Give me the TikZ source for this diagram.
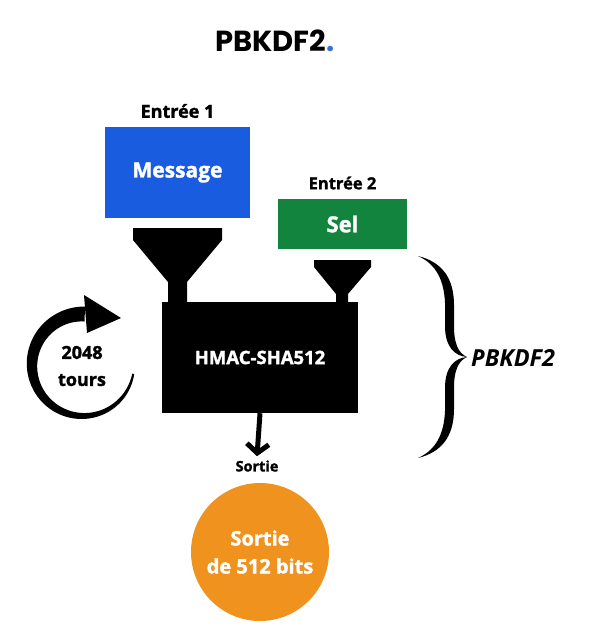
\documentclass[tikz,border=0pt]{standalone}
\usepackage{fontspec}
\setmainfont{Open Sans}[BoldFeatures={FakeBold=1.5}]
\newfontfamily\titlefont{Poppins}
\usetikzlibrary{arrows.meta}
\definecolor{msgblue}{HTML}{1A5CE0}
\definecolor{selgreen}{HTML}{13843E}
\definecolor{outorange}{HTML}{F0921E}
\definecolor{dotblue}{HTML}{3A6FD8}
\tikzset{
  lbl/.style={font=\bfseries, text=black, inner sep=0pt},
  funnel/.style={fill=black, draw=none},
}
\begin{document}
\begin{tikzpicture}[x=1pt,y=-1pt]
\useasboundingbox (0,0) rectangle (589,642);
% title
\node[inner sep=0pt, font=\titlefont\bfseries\fontsize{29}{33}\selectfont] (title) at (275,41) {PBKDF2\textcolor{dotblue}{.}};
% inputs
\node[lbl, font=\bfseries\fontsize{18}{21}\selectfont] (e1) at (177.5,111) {Entrée 1};
\node[fill=msgblue, minimum width=145pt, minimum height=91pt, inner sep=0pt,
      font=\bfseries\fontsize{21}{25}\selectfont, text=white] (msg) at (177.5,172.5) {Message};
\node[lbl, font=\bfseries\fontsize{16.5}{20}\selectfont] (e2) at (342.5,183) {Entrée 2};
\node[fill=selgreen, minimum width=129pt, minimum height=50pt, inner sep=0pt,
      font=\bfseries\fontsize{22}{26}\selectfont, text=white] (sel) at (342.5,224) {Sel};
% funnels
\fill[funnel] (133,228) -- (222,228) -- (222,240) -- (187,282) -- (187,303) -- (168,303) -- (168,282) -- (133,240) -- cycle;
\fill[funnel] (314,260) -- (371,260) -- (371,267) -- (348,294) -- (348,303) -- (336,303) -- (336,294) -- (314,267) -- cycle;
% HMAC box
\node[fill=black, minimum width=196pt, minimum height=111pt, inner sep=0pt,
      font=\bfseries\fontsize{18.5}{22}\selectfont, text=white] (hmac) at (260,357.5) {HMAC-SHA512};
% loop arrow
\fill plot[domain=10:272,samples=90] ({83+(51+(1+6.5*(\x-10)/262))*cos(\x)},{365+(51+(1+6.5*(\x-10)/262))*sin(\x)})
   -- plot[domain=272:10,samples=90] ({83+(51-(1+6.5*(\x-10)/262))*cos(\x)},{365+(51-(1+6.5*(\x-10)/262))*sin(\x)}) -- cycle;
\fill (84,295) -- (121,318) -- (87,333) -- cycle;
\node[lbl, font=\bfseries\fontsize{18}{27}\selectfont, align=center] (tours) at (82,366) {2048\\tours};
% brace
\fill (418,256) .. controls (442,262) and (454,278) .. (454,305) -- (454,326) .. controls (454,343) and (458,353) .. (467,357)
   .. controls (454,356) and (445,346) .. (445,326) -- (445,303) .. controls (444,280) and (436,264) .. (418,256) -- cycle;
\fill (418,458) .. controls (442,452) and (454,436) .. (454,409) -- (454,388) .. controls (454,371) and (458,361) .. (467,357)
   .. controls (454,358) and (445,368) .. (445,388) -- (445,411) .. controls (444,434) and (436,450) .. (418,458) -- cycle;
\node[lbl, font=\bfseries\itshape\fontsize{23.5}{27}\selectfont, anchor=west] (pb) at (471,358) {PBKDF2};
% output
\node[lbl, font=\bfseries\fontsize{14.5}{17}\selectfont] (sortie) at (257,466) {Sortie};
\draw[line width=5pt, -{Straight Barb[length=9pt,width=22pt,line width=5pt]}] (hmac.south) -- ([yshift=4pt]sortie.north);
\node[circle, fill=outorange, minimum size=138pt, inner sep=0pt, align=center, text=white,
      font=\bfseries\fontsize{20}{28}\selectfont] (out) at (260,552) {Sortie\\de 512 bits};
\end{tikzpicture}
\end{document}
